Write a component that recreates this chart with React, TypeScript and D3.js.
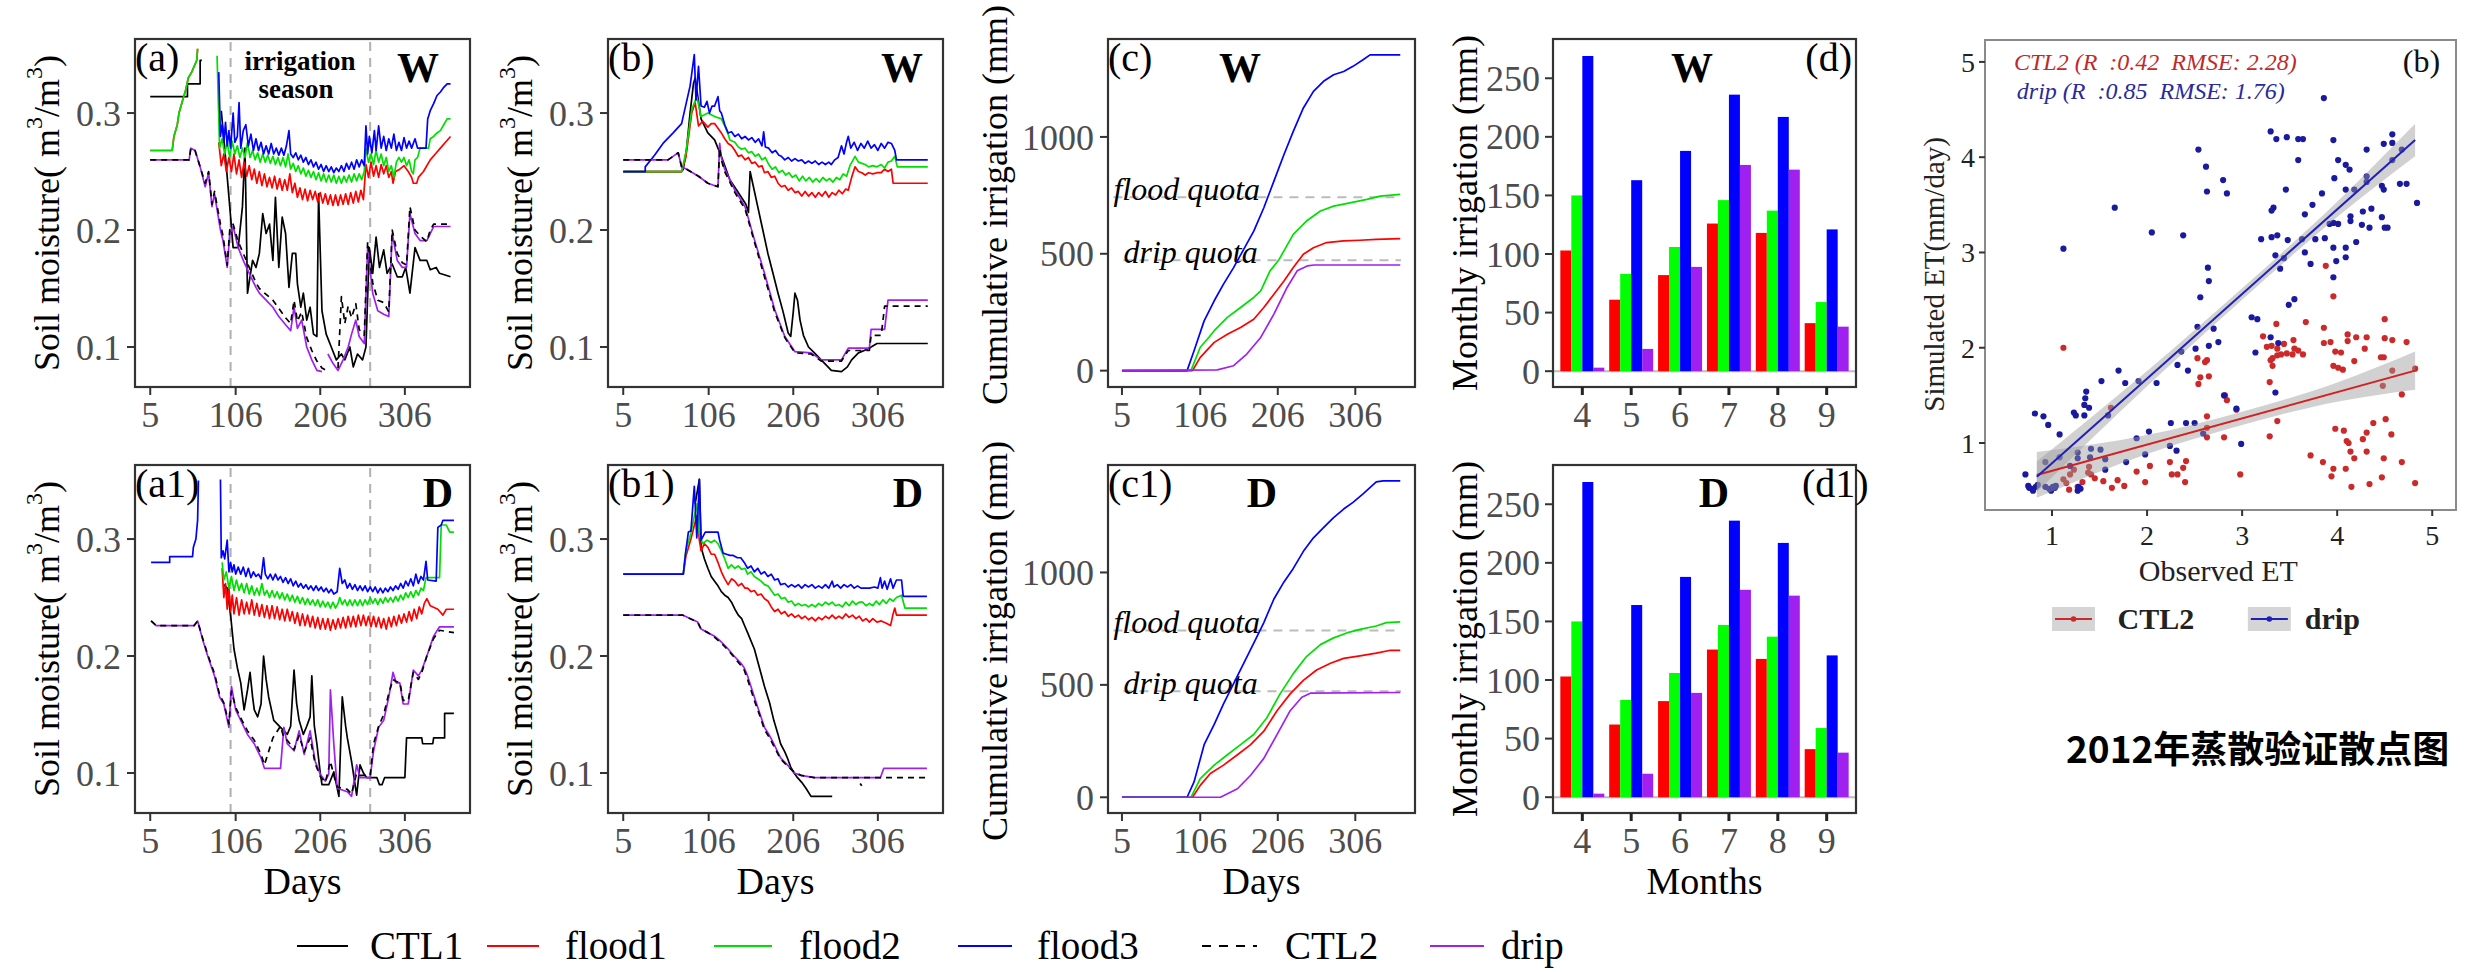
import React from 'react';
import * as d3 from 'd3';

type Pt = [number, number];
const N = NaN;

// ---------------- axis / label data ----------------
const dayTicks = [5, 106, 206, 306];
const soilTicks = [0.1, 0.2, 0.3];
const cumTicks = [0, 500, 1000];
const barTicks = [0, 50, 100, 150, 200, 250];
const monthLabels = ['4', '5', '6', '7', '8', '9'];
const irrigationSeason = [100, 265];
const quotaValues = [742, 472];
const quotaLabels = ['flood quota', 'drip quota'];
const quotaLabelStart = [-6, 7];
const seriesNames = ['CTL1', 'flood1', 'flood2', 'flood3', 'CTL2', 'drip'];
const seriesColors = ['#000000', '#ff0000', '#00e000', '#0000ff', '#000000', '#a020f0'];
const barColors = ['#ff0000', '#00ff00', '#0000ff', '#a020f0'];

// ---------------- (a) W soil moisture ----------------
const aW_CTL1: Pt[] = [[5,0.314],[49,0.314],[49,0.325],[64,0.325],[64,0.345],[66,0.345],[67,N],[89,0.302],[95,0.254],[99,0.22],[103,0.185],[109,0.185],[114,0.22],[117,0.27],[120,0.146],[126,0.174],[130,0.168],[134,0.18],[138,0.214],[142,0.197],[146,0.205],[150,0.174],[153,0.228],[157,0.168],[161,0.211],[165,0.197],[169,0.151],[173,0.18],[177,0.18],[179,0.154],[183,0.134],[186,0.146],[190,0.123],[194,0.134],[198,0.111],[202,0.109],[204,0.231],[208,0.131],[213,0.111],[219,0.1],[225,0.089],[231,0.094],[235,0.089],[241,0.1],[245,0.083],[250,0.094],[256,0.089],[260,0.1],[264,0.185],[268,0.163],[272,0.194],[276,0.168],[281,0.183],[285,0.163],[291,0.171],[297,0.16],[303,0.16],[307,0.168],[312,0.146],[318,0.185],[324,0.174],[332,0.174],[336,0.166],[343,0.168],[347,0.163],[360,0.16]];
const aW_flood1: Pt[] = [[5,0.268],[31,0.268],[33,0.28],[37,0.29],[39,0.3],[43,0.31],[47,0.32],[50,0.33],[54,0.335],[57,0.34],[60,0.345],[61,0.355],[62,N],[86,0.275],[89,0.255],[92,0.265],[95,0.25],[98,0.262],[101,0.25],[104,0.265],[107,0.248],[110,0.26],[113,0.245],[116,0.258],[119,0.246],[122,0.255],[125,0.243],[128,0.252],[131,0.24],[134,0.25],[137,0.238],[140,0.248],[143,0.237],[146,0.245],[149,0.236],[152,0.246],[155,0.235],[158,0.244],[161,0.234],[164,0.243],[167,0.234],[170,0.248],[173,0.232],[176,0.24],[179,0.228],[182,0.236],[185,0.226],[188,0.235],[191,0.225],[194,0.234],[197,0.226],[200,0.233],[203,0.224],[206,0.232],[209,0.223],[212,0.231],[215,0.222],[218,0.23],[221,0.221],[224,0.23],[227,0.221],[230,0.23],[233,0.222],[236,0.231],[239,0.222],[242,0.232],[245,0.223],[248,0.233],[251,0.224],[254,0.234],[257,0.226],[260,0.256],[263,0.245],[266,0.258],[269,0.246],[272,0.255],[275,0.245],[278,0.256],[281,0.248],[284,0.255],[287,0.245],[290,0.25],[292,0.24],[295,0.25],[300,0.252],[305,0.255],[310,0.25],[314,0.245],[316,0.24],[320,0.24],[322,0.245],[328,0.25],[336,0.26],[342,0.265],[348,0.27],[354,0.275],[360,0.28]];
const aW_flood2: Pt[] = [[5,0.268],[31,0.268],[33,0.28],[37,0.29],[39,0.3],[43,0.31],[47,0.32],[50,0.33],[54,0.335],[57,0.34],[60,0.345],[61,0.355],[62,N],[84,0.349],[87,0.27],[90,0.278],[93,0.265],[96,0.275],[99,0.262],[102,0.276],[105,0.265],[108,0.272],[111,0.262],[114,0.27],[117,0.262],[120,0.275],[123,0.262],[126,0.268],[129,0.26],[132,0.266],[135,0.258],[138,0.265],[141,0.258],[144,0.264],[147,0.257],[150,0.263],[153,0.256],[156,0.262],[159,0.255],[162,0.262],[165,0.254],[168,0.265],[171,0.252],[174,0.257],[177,0.25],[180,0.255],[183,0.248],[186,0.253],[189,0.246],[192,0.251],[195,0.245],[198,0.25],[201,0.243],[204,0.249],[207,0.242],[210,0.248],[213,0.241],[216,0.247],[219,0.241],[222,0.247],[225,0.24],[228,0.246],[231,0.24],[234,0.246],[237,0.241],[240,0.247],[243,0.241],[246,0.248],[249,0.242],[252,0.248],[255,0.243],[258,0.25],[260,0.27],[263,0.258],[266,0.265],[269,0.256],[272,0.268],[275,0.258],[278,0.265],[281,0.255],[284,0.262],[287,0.25],[290,0.255],[293,0.245],[296,0.258],[299,0.262],[302,0.258],[305,0.262],[308,0.255],[311,0.26],[314,0.25],[316,0.248],[318,0.26],[321,0.262],[324,0.27],[334,0.27],[336,0.278],[340,0.28],[344,0.283],[348,0.285],[352,0.29],[356,0.295],[360,0.295]];
const aW_flood3: Pt[] = [[86,0.335],[88,0.28],[90,0.29],[92,0.275],[94,0.292],[96,0.272],[98,0.285],[100,0.27],[103,0.3],[105,0.275],[108,0.28],[110,0.309],[112,0.27],[115,0.285],[118,0.29],[121,0.272],[124,0.282],[127,0.268],[130,0.278],[133,0.268],[136,0.275],[139,0.265],[142,0.272],[145,0.265],[148,0.274],[151,0.265],[154,0.27],[157,0.264],[160,0.27],[163,0.264],[166,0.272],[169,0.285],[171,0.265],[174,0.262],[177,0.266],[180,0.26],[183,0.264],[186,0.258],[189,0.262],[192,0.256],[195,0.26],[198,0.254],[201,0.258],[204,0.252],[207,0.256],[210,0.25],[213,0.255],[216,0.25],[219,0.254],[222,0.249],[225,0.253],[228,0.25],[231,0.255],[234,0.25],[237,0.257],[240,0.252],[243,0.258],[246,0.252],[249,0.26],[252,0.254],[255,0.26],[258,0.255],[260,0.289],[262,0.265],[264,0.28],[267,0.266],[270,0.285],[272,0.268],[275,0.289],[278,0.27],[281,0.28],[284,0.268],[287,0.278],[290,0.27],[293,0.282],[296,0.268],[299,0.275],[302,0.268],[305,0.279],[308,0.27],[311,0.276],[314,0.27],[318,0.278],[321,0.27],[331,0.27],[333,0.295],[336,0.302],[340,0.308],[344,0.315],[348,0.318],[352,0.322],[356,0.325],[360,0.325]];
const aW_CTL2: Pt[] = [[5,0.26],[51,0.26],[53,0.27],[58,0.268],[64,0.254],[70,0.24],[74,0.25],[78,0.222],[81,0.233],[88,0.205],[91,0.195],[96,0.17],[99,0.2],[103,0.205],[109,0.19],[115,0.18],[122,0.168],[130,0.155],[134,0.15],[142,0.145],[150,0.14],[157,0.133],[165,0.125],[171,0.12],[175,0.14],[179,0.122],[184,0.13],[190,0.108],[196,0.097],[202,0.088],[208,0.082],[213,0.08],[214,N],[227,0.082],[231,0.143],[235,0.12],[239,0.135],[243,0.125],[248,0.137],[252,0.115],[258,0.11],[262,0.19],[268,0.155],[274,0.14],[281,0.138],[287,0.13],[291,0.2],[297,0.18],[303,0.172],[308,0.17],[312,0.22],[318,0.2],[324,0.195],[332,0.19],[336,0.2],[340,0.205],[360,0.205]];
const aW_drip: Pt[] = [[5,0.26],[51,0.26],[53,0.27],[58,0.268],[64,0.254],[70,0.237],[74,0.249],[78,0.22],[81,0.231],[88,0.2],[91,0.191],[96,0.168],[99,0.197],[103,0.203],[109,0.185],[115,0.174],[122,0.163],[130,0.151],[134,0.146],[142,0.14],[150,0.134],[157,0.126],[165,0.119],[171,0.114],[175,0.134],[179,0.116],[184,0.123],[190,0.1],[196,0.089],[202,0.08],[208,0.079],[209,N],[215,0.094],[221,0.086],[227,0.08],[233,0.089],[239,0.1],[243,0.111],[248,0.123],[252,0.109],[258,0.103],[262,0.185],[268,0.146],[274,0.131],[281,0.128],[287,0.126],[291,0.197],[297,0.174],[303,0.168],[308,0.168],[312,0.214],[318,0.197],[324,0.191],[332,0.191],[336,0.197],[340,0.203],[360,0.203]];

// ---------------- (b) W soil moisture ----------------
const bW_CTL1: Pt[] = [[5,0.25],[74,0.25],[76,0.252],[80,0.27],[84,0.3],[88,0.325],[90,0.33],[93,0.315],[97,0.295],[105,0.283],[113,0.277],[121,0.263],[131,0.243],[141,0.232],[150,0.222],[153,0.215],[155,0.25],[158,0.24],[164,0.22],[170,0.2],[176,0.18],[182,0.163],[188,0.146],[194,0.13],[200,0.112],[203,0.109],[206,0.13],[208,0.146],[211,0.14],[214,0.123],[218,0.11],[224,0.1],[231,0.095],[239,0.089],[247,0.083],[251,0.08],[263,0.079],[270,0.083],[275,0.089],[283,0.095],[290,0.097],[298,0.1],[305,0.103],[365,0.103]];
const bW_flood1: Pt[] = [[5,0.25],[74,0.25],[79,0.262],[86,0.3],[90,0.309],[94,0.289],[99,0.293],[105,0.288],[109,0.291],[113,0.291],[117,0.287],[121,0.283],[125,0.278],[129,0.274],[133,0.272],[137,0.268],[141,0.263],[145,0.264],[149,0.26],[153,0.262],[157,0.257],[161,0.258],[165,0.254],[169,0.255],[172,0.249],[176,0.25],[180,0.245],[184,0.246],[188,0.24],[192,0.237],[196,0.238],[200,0.234],[204,0.236],[208,0.232],[212,0.233],[216,0.229],[220,0.233],[224,0.229],[228,0.232],[232,0.228],[236,0.232],[240,0.229],[244,0.233],[248,0.228],[252,0.232],[256,0.23],[260,0.234],[264,0.231],[268,0.235],[271,0.234],[275,0.245],[279,0.254],[283,0.25],[287,0.249],[291,0.247],[295,0.249],[300,0.248],[305,0.249],[310,0.249],[314,0.252],[318,0.25],[322,0.252],[324,0.24],[365,0.24]];
const bW_flood2: Pt[] = [[5,0.25],[74,0.25],[79,0.266],[86,0.303],[92,0.314],[97,0.297],[105,0.3],[113,0.297],[121,0.295],[125,0.289],[129,0.282],[131,0.277],[137,0.275],[141,0.271],[145,0.269],[149,0.27],[153,0.266],[157,0.267],[161,0.263],[165,0.265],[169,0.26],[173,0.262],[177,0.256],[181,0.252],[185,0.254],[189,0.249],[193,0.251],[197,0.247],[201,0.249],[205,0.245],[209,0.247],[213,0.242],[217,0.246],[221,0.242],[225,0.245],[229,0.241],[233,0.244],[237,0.241],[241,0.245],[245,0.242],[249,0.244],[253,0.241],[257,0.245],[261,0.243],[265,0.248],[269,0.246],[273,0.255],[279,0.263],[283,0.258],[287,0.257],[291,0.256],[295,0.254],[300,0.255],[305,0.254],[310,0.256],[314,0.253],[318,0.258],[322,0.259],[326,0.263],[329,0.254],[365,0.254]];
const bW_flood3: Pt[] = [[5,0.25],[31,0.25],[31,0.254],[42,0.264],[52,0.274],[64,0.283],[74,0.291],[84,0.323],[89,0.35],[91,0.311],[94,0.34],[97,0.306],[101,0.305],[104,0.31],[107,0.3],[110,0.306],[113,0.306],[117,0.314],[119,0.302],[121,0.3],[125,0.29],[129,0.283],[133,0.284],[137,0.28],[141,0.282],[145,0.278],[149,0.28],[153,0.277],[157,0.279],[161,0.275],[165,0.278],[169,0.272],[171,0.284],[173,0.271],[177,0.27],[181,0.266],[185,0.268],[189,0.264],[192,0.263],[196,0.26],[200,0.262],[204,0.259],[208,0.261],[212,0.259],[216,0.26],[220,0.257],[224,0.259],[228,0.257],[232,0.259],[236,0.256],[240,0.258],[244,0.256],[248,0.258],[251,0.256],[255,0.26],[259,0.262],[263,0.272],[266,0.265],[269,0.275],[271,0.28],[274,0.27],[278,0.275],[282,0.268],[286,0.274],[290,0.27],[294,0.276],[298,0.27],[302,0.273],[306,0.268],[310,0.274],[314,0.27],[318,0.275],[322,0.274],[326,0.268],[328,0.26],[365,0.26]];
const bW_CTL2: Pt[] = [[5,0.26],[58,0.26],[66,0.264],[70,0.266],[74,0.254],[80,0.252],[94,0.246],[105,0.24],[117,0.237],[119,0.27],[121,0.26],[125,0.25],[137,0.232],[149,0.218],[160,0.19],[172,0.16],[184,0.13],[196,0.108],[208,0.095],[227,0.094],[239,0.088],[263,0.088],[271,0.097],[296,0.097],[298,0.11],[310,0.11],[314,0.135],[365,0.135]];
const bW_drip: Pt[] = [[5,0.26],[58,0.26],[66,0.264],[70,0.266],[74,0.254],[80,0.252],[94,0.246],[105,0.24],[117,0.237],[119,0.274],[121,0.262],[125,0.252],[137,0.234],[149,0.22],[160,0.192],[172,0.163],[184,0.132],[196,0.109],[208,0.096],[227,0.095],[239,0.089],[263,0.089],[271,0.099],[296,0.099],[298,0.115],[314,0.115],[318,0.14],[365,0.14]];

// ---------------- (a1) D soil moisture ----------------
const aD_CTL1: Pt[] = [[92,0.261],[96,0.258],[100,0.235],[104,0.206],[108,0.19],[112,0.177],[116,0.154],[120,0.171],[123,0.186],[126,0.165],[128,0.154],[132,0.148],[136,0.159],[139,0.2],[142,0.18],[145,0.165],[151,0.145],[159,0.139],[167,0.133],[171,0.14],[175,0.188],[178,0.16],[181,0.145],[186,0.133],[190,0.14],[194,0.148],[196,0.183],[199,0.14],[202,0.125],[206,0.1],[208,0.09],[216,0.09],[222,0.101],[228,0.08],[232,0.165],[236,0.14],[238,0.13],[243,0.11],[249,0.081],[253,0.107],[257,0.1],[261,0.096],[273,0.096],[276,0.09],[279,0.09],[282,0.096],[306,0.096],[308,0.13],[326,0.13],[327,0.125],[339,0.125],[340,0.13],[353,0.13],[353,0.151],[364,0.151]];
const aD_flood1: Pt[] = [[90,0.275],[92,0.25],[94,0.262],[96,0.24],[98,0.258],[100,0.238],[102,0.252],[104,0.236],[107,0.25],[110,0.235],[113,0.248],[116,0.236],[119,0.246],[122,0.236],[125,0.248],[128,0.235],[131,0.245],[134,0.234],[137,0.244],[140,0.233],[143,0.243],[146,0.232],[149,0.243],[152,0.232],[155,0.242],[158,0.231],[161,0.24],[164,0.23],[167,0.24],[170,0.23],[173,0.238],[176,0.228],[179,0.237],[182,0.226],[185,0.236],[188,0.226],[191,0.235],[194,0.225],[197,0.234],[200,0.224],[203,0.233],[206,0.223],[209,0.232],[212,0.223],[215,0.232],[218,0.222],[221,0.231],[224,0.223],[227,0.232],[230,0.224],[233,0.233],[236,0.224],[239,0.234],[242,0.225],[245,0.234],[248,0.225],[251,0.235],[254,0.226],[257,0.235],[260,0.226],[263,0.234],[266,0.225],[269,0.234],[272,0.225],[275,0.233],[278,0.224],[281,0.232],[284,0.223],[287,0.233],[290,0.225],[293,0.234],[296,0.226],[299,0.235],[302,0.228],[305,0.236],[308,0.229],[311,0.238],[314,0.23],[317,0.24],[320,0.232],[323,0.242],[326,0.236],[329,0.245],[332,0.249],[336,0.243],[345,0.24],[351,0.235],[355,0.24],[364,0.24]];
const aD_flood2: Pt[] = [[90,0.28],[92,0.265],[95,0.272],[98,0.258],[101,0.268],[104,0.256],[107,0.265],[110,0.256],[113,0.262],[116,0.254],[119,0.262],[122,0.253],[125,0.26],[128,0.252],[131,0.258],[134,0.252],[137,0.262],[140,0.252],[143,0.256],[146,0.25],[149,0.256],[152,0.25],[155,0.255],[158,0.249],[161,0.254],[164,0.248],[167,0.253],[170,0.247],[173,0.252],[176,0.246],[179,0.251],[182,0.245],[185,0.25],[188,0.244],[191,0.249],[194,0.244],[197,0.248],[200,0.243],[203,0.248],[206,0.242],[209,0.247],[212,0.242],[215,0.246],[218,0.241],[221,0.246],[224,0.241],[227,0.245],[229,0.25],[232,0.244],[235,0.248],[238,0.243],[241,0.248],[244,0.243],[247,0.248],[250,0.243],[253,0.248],[256,0.243],[259,0.248],[262,0.244],[265,0.25],[268,0.245],[271,0.249],[274,0.244],[277,0.249],[280,0.245],[283,0.25],[286,0.246],[289,0.25],[292,0.246],[295,0.251],[298,0.247],[301,0.252],[304,0.248],[307,0.254],[310,0.25],[313,0.255],[316,0.25],[319,0.256],[322,0.252],[325,0.258],[328,0.256],[331,0.267],[347,0.267],[349,0.312],[355,0.312],[359,0.306],[364,0.306]];
const aD_flood3: Pt[] = [[6,0.28],[28,0.28],[28,0.285],[55,0.285],[56,0.293],[59,0.3],[61,0.316],[62,0.35],[63,N],[88,0.351],[89,0.284],[91,0.29],[93,0.283],[96,0.299],[98,0.272],[100,0.28],[102,0.272],[104,0.278],[106,0.27],[109,0.276],[112,0.27],[115,0.276],[118,0.268],[121,0.275],[124,0.267],[127,0.272],[130,0.268],[133,0.27],[136,0.266],[139,0.284],[141,0.27],[144,0.266],[147,0.27],[150,0.265],[153,0.27],[156,0.265],[159,0.268],[162,0.263],[165,0.267],[168,0.262],[171,0.266],[174,0.26],[177,0.264],[180,0.259],[183,0.262],[186,0.258],[189,0.261],[192,0.257],[195,0.26],[198,0.256],[201,0.26],[204,0.256],[207,0.259],[210,0.255],[213,0.258],[216,0.254],[219,0.257],[222,0.253],[226,0.255],[229,0.275],[232,0.262],[235,0.265],[238,0.258],[241,0.262],[244,0.257],[247,0.261],[250,0.256],[253,0.26],[256,0.256],[259,0.26],[262,0.255],[265,0.259],[268,0.255],[271,0.259],[274,0.254],[277,0.258],[280,0.254],[283,0.258],[286,0.255],[289,0.259],[292,0.256],[295,0.26],[298,0.257],[301,0.262],[304,0.258],[307,0.264],[310,0.26],[313,0.266],[316,0.26],[319,0.27],[322,0.262],[325,0.268],[328,0.265],[331,0.281],[333,0.265],[343,0.264],[345,0.31],[349,0.312],[351,0.316],[364,0.316]];
const aD_CTL2: Pt[] = [[6,0.23],[12,0.226],[57,0.226],[61,0.23],[67,0.215],[73,0.201],[81,0.185],[87,0.167],[92,0.16],[98,0.142],[101,0.17],[106,0.156],[112,0.147],[120,0.136],[128,0.128],[136,0.116],[140,0.107],[150,0.13],[159,0.14],[163,0.13],[167,0.128],[175,0.12],[181,0.132],[187,0.118],[194,0.13],[200,0.108],[206,0.097],[212,0.092],[218,0.11],[222,0.098],[226,0.088],[238,0.086],[243,0.082],[249,0.1],[253,0.098],[265,0.098],[269,0.125],[275,0.14],[281,0.15],[287,0.168],[292,0.18],[296,0.178],[300,0.178],[304,0.162],[310,0.162],[316,0.186],[322,0.18],[326,0.186],[332,0.2],[340,0.215],[347,0.222],[364,0.22]];
const aD_drip: Pt[] = [[6,0.23],[12,0.226],[57,0.226],[61,0.23],[67,0.214],[73,0.2],[81,0.183],[87,0.165],[92,0.159],[98,0.139],[101,0.174],[106,0.154],[112,0.145],[120,0.133],[128,0.125],[136,0.113],[140,0.104],[159,0.104],[163,0.139],[167,0.125],[175,0.119],[181,0.136],[187,0.116],[194,0.136],[200,0.11],[206,0.099],[212,0.093],[216,0.099],[218,0.171],[222,0.125],[226,0.087],[238,0.084],[243,0.08],[249,0.107],[253,0.096],[265,0.096],[269,0.119],[275,0.139],[281,0.145],[287,0.165],[292,0.186],[296,0.177],[300,0.177],[304,0.159],[310,0.159],[316,0.188],[322,0.183],[326,0.188],[332,0.2],[340,0.217],[347,0.225],[364,0.225]];

// ---------------- (b1) D soil moisture ----------------
const bD_CTL1: Pt[] = [[90,0.33],[95,0.351],[97,0.293],[101,0.283],[105,0.275],[109,0.268],[113,0.264],[117,0.26],[121,0.255],[125,0.252],[129,0.25],[133,0.246],[137,0.24],[141,0.235],[145,0.232],[149,0.225],[152,0.22],[156,0.213],[160,0.206],[166,0.19],[172,0.174],[178,0.16],[183,0.145],[188,0.133],[191,0.125],[196,0.118],[199,0.113],[203,0.105],[207,0.1],[211,0.096],[216,0.092],[221,0.087],[227,0.08],[252,0.08],[253,N],[285,0.091],[287,0.089]];
const bD_flood1: Pt[] = [[5,0.27],[76,0.27],[79,0.285],[85,0.3],[92,0.32],[95,0.299],[97,0.29],[101,0.296],[105,0.293],[109,0.287],[113,0.287],[117,0.28],[121,0.272],[125,0.266],[129,0.261],[133,0.266],[137,0.264],[141,0.26],[145,0.262],[149,0.258],[152,0.258],[156,0.255],[160,0.256],[164,0.252],[168,0.253],[172,0.249],[176,0.247],[180,0.242],[184,0.238],[188,0.24],[192,0.236],[196,0.238],[200,0.234],[204,0.236],[208,0.233],[212,0.235],[216,0.232],[220,0.234],[224,0.231],[228,0.233],[232,0.23],[236,0.233],[240,0.231],[244,0.234],[248,0.232],[252,0.235],[256,0.232],[260,0.234],[264,0.232],[268,0.236],[272,0.233],[276,0.235],[280,0.232],[284,0.234],[288,0.23],[292,0.232],[296,0.229],[300,0.232],[305,0.229],[310,0.23],[316,0.228],[321,0.226],[324,0.236],[326,0.241],[328,0.235],[364,0.235]];
const bD_flood2: Pt[] = [[5,0.27],[76,0.27],[79,0.29],[85,0.305],[92,0.33],[95,0.304],[99,0.296],[104,0.299],[109,0.297],[113,0.299],[117,0.296],[121,0.29],[125,0.283],[129,0.275],[133,0.278],[137,0.275],[141,0.277],[145,0.274],[149,0.275],[152,0.27],[156,0.272],[160,0.268],[164,0.266],[168,0.264],[172,0.261],[176,0.26],[180,0.256],[184,0.252],[188,0.253],[192,0.249],[196,0.25],[200,0.246],[204,0.247],[208,0.243],[212,0.245],[216,0.243],[220,0.244],[224,0.242],[228,0.244],[232,0.242],[236,0.245],[240,0.243],[244,0.246],[248,0.244],[252,0.246],[256,0.243],[260,0.244],[264,0.242],[268,0.246],[272,0.243],[276,0.247],[280,0.244],[284,0.246],[288,0.246],[292,0.243],[296,0.245],[300,0.243],[304,0.247],[308,0.244],[312,0.248],[316,0.245],[320,0.249],[324,0.247],[328,0.25],[334,0.252],[338,0.241],[364,0.241]];
const bD_flood3: Pt[] = [[5,0.27],[76,0.27],[79,0.29],[82,0.306],[85,0.307],[89,0.345],[92,0.301],[95,0.351],[97,0.299],[102,0.306],[117,0.306],[119,0.299],[123,0.288],[127,0.287],[131,0.286],[135,0.286],[140,0.284],[144,0.284],[148,0.28],[152,0.275],[156,0.277],[160,0.272],[164,0.275],[168,0.27],[172,0.272],[176,0.268],[180,0.27],[184,0.265],[188,0.266],[191,0.261],[196,0.262],[200,0.259],[204,0.261],[208,0.259],[212,0.261],[216,0.258],[220,0.261],[224,0.259],[228,0.261],[232,0.258],[236,0.26],[240,0.258],[244,0.261],[248,0.258],[252,0.264],[254,0.259],[258,0.261],[262,0.258],[266,0.261],[270,0.259],[274,0.261],[278,0.258],[282,0.26],[286,0.258],[296,0.258],[302,0.259],[306,0.258],[309,0.267],[311,0.258],[314,0.264],[317,0.257],[321,0.266],[324,0.258],[328,0.265],[334,0.265],[336,0.251],[364,0.251]];
const bD_CTL2: Pt[] = [[5,0.235],[75,0.235],[93,0.229],[97,0.223],[105,0.22],[113,0.216],[121,0.211],[129,0.205],[136,0.199],[144,0.192],[148,0.188],[152,0.18],[160,0.162],[166,0.15],[172,0.137],[178,0.13],[183,0.123],[191,0.112],[199,0.106],[207,0.101],[215,0.098],[231,0.096],[364,0.096]];
const bD_drip: Pt[] = [[5,0.235],[75,0.235],[93,0.229],[97,0.223],[105,0.22],[113,0.217],[121,0.212],[129,0.206],[136,0.2],[144,0.194],[148,0.19],[152,0.183],[160,0.165],[166,0.152],[172,0.139],[178,0.132],[183,0.125],[191,0.113],[199,0.107],[207,0.1],[215,0.098],[231,0.096],[309,0.096],[313,0.104],[364,0.104]];

// ---------------- (c) W cumulative irrigation ----------------
const cW_flood1: Pt[] = [[5,0],[96,0],[106,57],[124,121],[141,156],[158,185],[175,220],[188,270],[201,327],[214,384],[226,441],[239,498],[252,526],[269,548],[291,555],[312,558],[333,562],[364,565]];
const cW_flood2: Pt[] = [[5,0],[94,0],[106,100],[117,142],[124,171],[141,228],[158,270],[175,313],[184,341],[196,427],[207,472],[226,583],[243,640],[261,683],[278,704],[299,718],[321,733],[338,747],[364,754]];
const cW_flood3: Pt[] = [[5,0],[89,0],[98,85],[111,213],[124,299],[136,370],[149,441],[162,519],[175,597],[188,697],[201,811],[214,925],[226,1024],[239,1124],[252,1195],[265,1238],[278,1266],[291,1280],[303,1302],[316,1330],[325,1351],[364,1351]];
const cW_drip: Pt[] = [[5,0],[128,3],[149,21],[166,71],[184,142],[201,242],[218,356],[231,427],[244,448],[253,452],[364,452]];

// ---------------- (c1) D cumulative irrigation ----------------
const cD_flood1: Pt[] = [[5,0],[96,0],[106,53],[119,106],[136,143],[154,189],[171,234],[188,294],[205,385],[222,460],[239,520],[256,566],[274,596],[291,618],[312,629],[333,641],[350,653],[364,653]];
const cD_flood2: Pt[] = [[5,0],[94,0],[106,83],[124,143],[141,189],[158,234],[175,279],[192,354],[209,460],[226,550],[243,626],[261,679],[278,709],[295,731],[312,747],[333,762],[346,777],[364,780]];
const cD_flood3: Pt[] = [[5,0],[89,0],[98,68],[111,234],[124,324],[136,415],[149,505],[162,596],[175,686],[188,777],[201,882],[214,958],[226,1018],[239,1094],[252,1154],[265,1199],[278,1244],[291,1282],[303,1312],[316,1350],[333,1403],[342,1407],[364,1407]];
const cD_drip: Pt[] = [[5,0],[132,0],[154,38],[171,98],[188,173],[205,279],[222,385],[237,445],[248,463],[364,466]];

// ---------------- (d) monthly irrigation ----------------
const dW_flood1 = [103, 61, 82, 126, 118, 41];
const dW_flood2 = [150, 83, 106, 146, 137, 59];
const dW_flood3 = [269, 163, 188, 236, 217, 121];
const dW_drip = [3, 19, 89, 176, 172, 38];
const dD_flood1 = [103, 62, 82, 126, 118, 41];
const dD_flood2 = [150, 83, 106, 147, 137, 59];
const dD_flood3 = [269, 164, 188, 236, 217, 121];
const dD_drip = [3, 20, 89, 177, 172, 38];

// ---------------- scatter (ET validation) ----------------
const etTicks = [1, 2, 3, 4, 5];
const etBlue: Pt[] = [[3.86,4.62],[2.54,4.08],[2.62,3.9],[3.3,4.27],[3.36,4.19],[3.47,4.21],[3.59,4.19],[3.64,4.19],[3.96,4.18],[4.49,4.14],[4.58,4.15],[4.58,4.24],[4.68,4.08],[4.31,4.08],[4.01,3.97],[4.09,3.92],[4.13,3.87],[3.59,3.97],[4.58,3.97],[3.97,3.78],[2.8,3.76],[2.84,3.62],[2.63,3.64],[3.46,3.66],[3.84,3.62],[4.09,3.66],[4.18,3.66],[4.31,3.8],[4.31,3.74],[4.47,3.7],[4.49,3.66],[4.66,3.72],[4.73,3.72],[4.84,3.52],[3.74,3.5],[3.66,3.4],[3.33,3.47],[3.31,3.44],[1.66,3.47],[4.14,3.38],[4.01,3.3],[3.92,3.3],[3.96,3.31],[4.14,3.33],[4.27,3.43],[4.36,3.46],[4.26,3.29],[4.34,3.26],[4.47,3.37],[4.5,3.26],[4.53,3.26],[2.05,3.21],[2.38,3.18],[3.2,3.14],[3.31,3.16],[3.37,3.18],[3.48,3.13],[3.63,3.14],[3.77,3.14],[3.87,3.15],[3.96,3.05],[4.09,3.05],[4.2,3.11],[3.99,2.91],[4.09,2.95],[3.66,3.0],[3.72,2.88],[3.35,2.97],[3.4,2.83],[3.44,2.94],[1.12,3.04],[2.64,2.84],[2.65,2.7],[3.96,2.74],[2.56,2.53],[3.55,2.51],[3.49,2.45],[2.53,2.22],[2.7,2.2],[3.1,2.32],[3.16,2.3],[3.14,1.95],[3.3,2.11],[3.38,2.05],[3.35,1.53],[2.75,2.06],[2.65,2.02],[2.51,1.99],[2.36,1.96],[2.32,1.82],[2.43,1.76],[2.81,1.5],[2.94,1.36],[1.91,1.65],[2.1,1.63],[1.77,1.63],[1.52,1.65],[1.7,1.76],[1.36,1.54],[1.35,1.47],[1.34,1.4],[1.39,1.37],[1.23,1.32],[1.25,1.29],[1.34,1.29],[0.82,1.31],[0.91,1.28],[0.96,1.19],[1.08,1.09],[1.59,1.29],[1.89,1.05],[2.02,1.12],[2.25,1.21],[2.41,1.21],[2.5,1.21],[2.24,0.97],[2.31,0.92],[1.98,0.88],[1.78,0.8],[1.56,0.83],[1.51,0.93],[1.56,0.72],[1.41,0.94],[1.4,0.85],[1.27,0.9],[1.27,0.84],[1.19,0.76],[1.08,0.85],[0.93,0.8],[0.72,0.67],[0.75,0.55],[0.79,0.52],[0.83,0.54],[0.85,0.56],[0.93,0.54],[0.97,0.52],[1.01,0.54],[1.04,0.55],[1.28,0.54],[1.3,0.52],[2.99,0.99],[2.59,1.1],[0.8,0.5],[0.76,0.53],[0.99,0.5],[1.03,0.53],[1.27,0.5]];
const etRed: Pt[] = [[1.12,2.0],[3.88,2.86],[3.96,2.54],[3.67,2.27],[3.86,2.21],[3.22,2.12],[3.36,2.25],[3.26,2.01],[3.31,2.02],[3.37,1.99],[3.44,2.04],[3.54,2.08],[3.55,1.99],[3.59,1.97],[3.32,1.89],[3.37,1.92],[3.41,1.93],[3.47,1.94],[3.53,1.93],[3.64,1.93],[3.86,2.05],[3.93,2.06],[3.98,1.96],[4.04,1.95],[4.11,2.14],[4.11,2.07],[4.2,2.11],[4.31,2.11],[4.29,1.99],[4.5,2.3],[4.5,2.1],[4.58,2.08],[4.73,2.06],[4.49,1.9],[3.96,1.81],[4.01,1.79],[4.06,1.77],[4.18,1.86],[4.46,1.9],[3.3,1.87],[3.32,1.81],[3.29,1.64],[2.63,1.87],[2.53,1.89],[2.61,1.85],[2.56,1.69],[2.65,1.7],[2.54,1.62],[2.63,1.28],[2.63,1.16],[2.82,1.5],[2.84,1.45],[2.94,1.35],[2.98,0.67],[3.29,1.07],[3.37,1.23],[3.72,0.87],[3.85,0.8],[3.96,0.73],[3.94,0.65],[4.09,0.73],[3.98,1.15],[4.07,1.13],[4.1,1.02],[4.12,1.0],[4.14,0.91],[4.18,0.84],[4.15,0.54],[4.27,1.04],[4.31,1.11],[4.31,0.91],[4.34,0.57],[4.38,1.21],[4.47,0.64],[4.49,0.84],[4.51,1.25],[4.57,1.09],[4.68,0.8],[4.68,1.51],[4.58,1.76],[4.82,0.58],[4.48,1.6],[4.82,1.78],[2.63,1.06],[2.81,1.06],[2.41,0.81],[2.38,0.74],[2.32,0.67],[2.4,0.59],[2.24,0.8],[2.26,0.67],[2.03,0.76],[1.89,0.7],[1.98,0.59],[1.69,0.61],[1.76,0.55],[1.63,0.53],[1.54,0.6],[1.45,0.63],[1.41,0.67],[1.38,0.69],[1.32,0.59],[1.27,0.54],[1.18,0.51],[1.15,0.58],[1.12,0.62],[1.23,0.72],[1.39,0.75],[1.62,1.37],[1.19,0.67]];
const fitX = [0.84, 2, 3, 4, 4.82];
const blueFit: Pt[] = [[0.84, 0.646], [4.82, 4.18]];
const redFit: Pt[] = [[0.84, 0.665], [4.82, 1.76]];
const blueBandHalf = [0.16, 0.08, 0.06, 0.08, 0.17];
const redBandHalf = [0.24, 0.1, 0.07, 0.1, 0.2];
const etLabels = ['CTL2 (R  :0.42  RMSE: 2.28)', 'drip (R  :0.85  RMSE: 1.76)'];
const caption = '2012年蒸散验证散点图';

// ---------------- layout ----------------
const SERIF = '"Liberation Serif", "Times New Roman", serif';
const TICK_GREY = '#4d4d4d';
const FRAME = '#333333';
const COLS = { a: [135, 335], b: [608, 335], c: [1108, 307], d: [1553, 303] };
const ROWS = [[39, 348], [465, 348]];
const dayDomain: [number, number] = [-13, 383];
const soilDomain: [number, number] = [0.0658, 0.3633];

type LineSpec = { data: Pt[]; color: string; dash?: string };

function YTitle({ x, y, children }: { x: number; y: number; children: React.ReactNode }) {
  return (
    <text transform={`translate(${x},${y}) rotate(-90)`} textAnchor="middle" dominantBaseline="central"
      fontFamily={SERIF} fontSize={36} fill="#000">{children}</text>
  );
}

function SoilTitle({ x, y }: { x: number; y: number }) {
  return (
    <YTitle x={x} y={y}>
      Soil moisture( m<tspan dy={-13} fontSize={24}>3</tspan><tspan dy={13}>/m</tspan>
      <tspan dy={-13} fontSize={24}>3</tspan><tspan dy={13}>)</tspan>
    </YTitle>
  );
}

function LinePanel(props: {
  id: string; left: number; top: number; width: number; height: number;
  yDomain: [number, number]; yTicks: number[]; yFmt: (v: number) => string;
  lines: LineSpec[]; extra?: (x: d3.ScaleLinear<number, number>, y: d3.ScaleLinear<number, number>) => React.ReactNode;
}) {
  const { id, left, top, width, height, yDomain, yTicks, yFmt, lines, extra } = props;
  const x = d3.scaleLinear().domain(dayDomain).range([left, left + width]);
  const y = d3.scaleLinear().domain(yDomain).range([top + height, top]);
  const gen = d3.line<Pt>().defined(d => !isNaN(d[1])).x(d => x(d[0])).y(d => y(d[1]));
  const bottom = top + height;
  return (
    <g>
      <defs>
        <clipPath id={id}><rect x={left} y={top} width={width} height={height} /></clipPath>
      </defs>
      <g clipPath={`url(#${id})`}>
        {extra ? extra(x, y) : null}
        {lines.map((l, i) => (
          <path key={i} d={gen(l.data) || ''} fill="none" stroke={l.color} strokeWidth={1.7}
            strokeDasharray={l.dash || undefined} strokeLinejoin="round" />
        ))}
      </g>
      <rect x={left} y={top} width={width} height={height} fill="none" stroke={FRAME} strokeWidth={2.2} />
      {yTicks.map(t => (
        <g key={t}>
          <line x1={left - 8} x2={left} y1={y(t)} y2={y(t)} stroke={FRAME} strokeWidth={2} />
          <text x={left - 14} y={y(t)} dy="0.35em" textAnchor="end" fontFamily={SERIF} fontSize={36} fill={TICK_GREY}>{yFmt(t)}</text>
        </g>
      ))}
      {dayTicks.map(t => (
        <g key={t}>
          <line x1={x(t)} x2={x(t)} y1={bottom} y2={bottom + 8} stroke={FRAME} strokeWidth={2} />
          <text x={x(t)} y={bottom + 40} textAnchor="middle" fontFamily={SERIF} fontSize={36} fill={TICK_GREY}>{t}</text>
        </g>
      ))}
    </g>
  );
}

function soilLines(ctl1: Pt[], f1: Pt[], f2: Pt[], f3: Pt[], ctl2: Pt[], drip: Pt[]): LineSpec[] {
  return [
    { data: ctl1, color: seriesColors[0] },
    { data: f1, color: seriesColors[1] },
    { data: f2, color: seriesColors[2] },
    { data: f3, color: seriesColors[3] },
    { data: drip, color: seriesColors[5] },
    { data: ctl2, color: seriesColors[4], dash: '6,5' },
  ];
}

function cumLines(f1: Pt[], f2: Pt[], f3: Pt[], drip: Pt[]): LineSpec[] {
  return [
    { data: f1, color: seriesColors[1] },
    { data: f2, color: seriesColors[2] },
    { data: f3, color: seriesColors[3] },
    { data: drip, color: seriesColors[5] },
  ];
}

function BarPanel(props: { left: number; top: number; width: number; height: number; values: number[][] }) {
  const { left, top, width, height, values } = props;
  const x = d3.scaleLinear().domain([0.4, 6.6]).range([left, left + width]);
  const y = d3.scaleLinear().domain([-13.5, 283.5]).range([top + height, top]);
  const bw = 0.225;
  const bottom = top + height;
  return (
    <g>
      <line x1={left} x2={left + width} y1={y(0)} y2={y(0)} stroke="#bdbdbd" strokeWidth={2} />
      {values.map((series, si) => series.map((v, mi) => {
        const cx = mi + 1 + (si - 1.5) * bw;
        return <rect key={`${si}-${mi}`} x={x(cx - bw / 2)} y={y(v)} width={x(cx + bw / 2) - x(cx - bw / 2)}
          height={y(0) - y(v)} fill={barColors[si]} />;
      }))}
      <rect x={left} y={top} width={width} height={height} fill="none" stroke={FRAME} strokeWidth={2.2} />
      {barTicks.map(t => (
        <g key={t}>
          <line x1={left - 8} x2={left} y1={y(t)} y2={y(t)} stroke={FRAME} strokeWidth={2} />
          <text x={left - 13} y={y(t)} dy="0.35em" textAnchor="end" fontFamily={SERIF} fontSize={36} fill={TICK_GREY}>{t}</text>
        </g>
      ))}
      {monthLabels.map((m, i) => (
        <g key={m}>
          <line x1={x(i + 1)} x2={x(i + 1)} y1={bottom} y2={bottom + 8} stroke="#222" strokeWidth={3} />
          <text x={x(i + 1)} y={bottom + 40} textAnchor="middle" fontFamily={SERIF} fontSize={36} fill={TICK_GREY}>{m}</text>
        </g>
      ))}
    </g>
  );
}

function quotaExtra(x: d3.ScaleLinear<number, number>, y: d3.ScaleLinear<number, number>) {
  return (
    <g>
      {quotaValues.map((q, i) => (
        <g key={i}>
          <line x1={x(quotaLabelStart[i])} x2={x(365)} y1={y(q)} y2={y(q)} stroke="#bbbbbb" strokeWidth={2} strokeDasharray="9,7" />
          <text x={x(quotaLabelStart[i])} y={y(q) + 3} fontFamily={SERIF} fontStyle="italic" fontSize={32} fill="#000">{quotaLabels[i]}</text>
        </g>
      ))}
    </g>
  );
}

function seasonExtra(x: d3.ScaleLinear<number, number>, y: d3.ScaleLinear<number, number>) {
  const [y0, y1] = y.range();
  return (
    <g>
      {irrigationSeason.map(d => (
        <line key={d} x1={x(d)} x2={x(d)} y1={y0} y2={y1} stroke="#b0b0b0" strokeWidth={2} strokeDasharray="9,7" />
      ))}
    </g>
  );
}

function Scatter() {
  const left = 1985, right = 2456, top = 40, bottom = 510;
  const x = d3.scaleLinear().domain([0.295, 5.25]).range([left, right]);
  const y = d3.scaleLinear().domain([0.297, 5.23]).range([bottom, top]);
  const band = (fit: Pt[], half: number[]) => {
    const pts = fitX.map((fx, i) => {
      const c = fit[0][1] + (fit[1][1] - fit[0][1]) * (fx - fit[0][0]) / (fit[1][0] - fit[0][0]);
      return { fx, lo: c - half[i], hi: c + half[i] };
    });
    return d3.area<{ fx: number; lo: number; hi: number }>()
      .x(d => x(d.fx)).y0(d => y(d.lo)).y1(d => y(d.hi)).curve(d3.curveMonotoneX)(pts) || '';
  };
  const lineGen = d3.line<Pt>().x(d => x(d[0])).y(d => y(d[1]));
  const blue = '#1a1aa0', red = '#cc2a2a';
  const legendY = bottom + 109;
  return (
    <g>
      <defs><clipPath id="scClip"><rect x={left} y={top} width={right - left} height={bottom - top} /></clipPath></defs>
      <g clipPath="url(#scClip)">
        {etRed.map((p, i) => <circle key={`r${i}`} cx={x(p[0])} cy={y(p[1])} r={3.1} fill={red} />)}
        {etBlue.map((p, i) => <circle key={`b${i}`} cx={x(p[0])} cy={y(p[1])} r={3.1} fill={blue} />)}
        <path d={band(redFit, redBandHalf)} fill="#9a9a9a" fillOpacity={0.45} />
        <path d={band(blueFit, blueBandHalf)} fill="#9a9a9a" fillOpacity={0.45} />
        <path d={lineGen(redFit) || ''} stroke="#d42020" strokeWidth={2} fill="none" />
        <path d={lineGen(blueFit) || ''} stroke="#2020b8" strokeWidth={2} fill="none" />
      </g>
      <rect x={left} y={top} width={right - left} height={bottom - top} fill="none" stroke="#8a8a8a" strokeWidth={2} />
      {etTicks.map(t => (
        <g key={`y${t}`}>
          <line x1={left - 6} x2={left} y1={y(t)} y2={y(t)} stroke="#333" strokeWidth={2} />
          <text x={left - 10} y={y(t)} dy="0.35em" textAnchor="end" fontFamily={SERIF} fontSize={28} fill="#222">{t}</text>
        </g>
      ))}
      {etTicks.map(t => (
        <g key={`x${t}`}>
          <line x1={x(t)} x2={x(t)} y1={bottom} y2={bottom + 6} stroke="#333" strokeWidth={2} />
          <text x={x(t)} y={bottom + 35} textAnchor="middle" fontFamily={SERIF} fontSize={28} fill="#222">{t}</text>
        </g>
      ))}
      <text transform={`translate(1934,${y(2.77)}) rotate(-90)`} textAnchor="middle" dominantBaseline="central"
        fontFamily={SERIF} fontSize={29} fill="#222">Simulated ET(mm/day)</text>
      <text x={x(2.75)} y={bottom + 71} textAnchor="middle" fontFamily={SERIF} fontSize={30} fill="#222">Observed ET</text>
      <text x={x(0.6)} y={y(4.91)} fontFamily={SERIF} fontStyle="italic" fontSize={24} fill="#c02a2a" style={{ whiteSpace: 'pre' }}>{etLabels[0]}</text>
      <text x={x(0.63)} y={y(4.61)} fontFamily={SERIF} fontStyle="italic" fontSize={24} fill="#2a2a9a" style={{ whiteSpace: 'pre' }}>{etLabels[1]}</text>
      <text x={x(4.69)} y={y(4.89)} fontFamily={SERIF} fontSize={32} fill="#111">(b)</text>
      {[{ k: x(1.0), t: x(1.69), c: '#cc2a2a', n: 'CTL2' }, { k: x(3.06), t: x(3.66), c: '#2020b8', n: 'drip' }].map(g => (
        <g key={g.n}>
          <rect x={g.k} y={legendY - 12} width={43} height={24} fill="#d5d5d5" />
          <line x1={g.k + 3} x2={g.k + 40} y1={legendY} y2={legendY} stroke={g.c} strokeWidth={2} />
          <circle cx={g.k + 21.5} cy={legendY} r={2.8} fill={g.c} />
          <text x={g.t} y={legendY + 10} fontFamily={SERIF} fontWeight="bold" fontSize={30} fill="#222">{g.n}</text>
        </g>
      ))}
      <text x={2066} y={763} fontFamily={'"Noto Sans CJK SC", "Noto Sans", sans-serif'} fontWeight="bold" fontSize={37}
        fill="#000">{caption}</text>
    </g>
  );
}

function Legend() {
  const items = [
    { l: 297, r: 348, t: 370 },
    { l: 487, r: 539, t: 565 },
    { l: 714, r: 772, t: 799 },
    { l: 958, r: 1012, t: 1037 },
    { l: 1202, r: 1257, t: 1285 },
    { l: 1430, r: 1484, t: 1501 },
  ];
  return (
    <g>
      {seriesNames.map((n, i) => (
        <g key={n}>
          <line x1={items[i].l} x2={items[i].r} y1={946} y2={946} stroke={seriesColors[i]} strokeWidth={2}
            strokeDasharray={n === 'CTL2' ? '9,8' : undefined} />
          <text x={items[i].t} y={959} fontFamily={SERIF} fontSize={39} fill="#000">{n}</text>
        </g>
      ))}
    </g>
  );
}

export default function App() {
  const [aL, aW] = COLS.a, [bL, bW] = COLS.b, [cL, cW] = COLS.c, [dL, dW] = COLS.d;
  const [t0, h0] = ROWS[0], [t1, h1] = ROWS[1];
  const f1 = (v: number) => v.toFixed(1);
  const f0 = (v: number) => String(v);
  const letter = (x: number, y: number, s: string) => (
    <text x={x} y={y} fontFamily={SERIF} fontSize={40} fill="#000">{s}</text>
  );
  const bold = (x: number, y: number, s: string) => (
    <text x={x} y={y} textAnchor="middle" fontFamily={SERIF} fontWeight="bold" fontSize={42} fill="#000">{s}</text>
  );
  return (
    <svg width={2483} height={972} style={{ position: 'absolute', left: 0, top: 0, display: 'block', background: '#fff' }}>
      <rect x={0} y={0} width={2483} height={972} fill="#fff" />
      <LinePanel id="pa" left={aL} top={t0} width={aW} height={h0} yDomain={soilDomain} yTicks={soilTicks} yFmt={f1}
        lines={soilLines(aW_CTL1, aW_flood1, aW_flood2, aW_flood3, aW_CTL2, aW_drip)} extra={seasonExtra} />
      <LinePanel id="pb" left={bL} top={t0} width={bW} height={h0} yDomain={soilDomain} yTicks={soilTicks} yFmt={f1}
        lines={soilLines(bW_CTL1, bW_flood1, bW_flood2, bW_flood3, bW_CTL2, bW_drip)} />
      <LinePanel id="pc" left={cL} top={t0} width={cW} height={h0} yDomain={[-70, 1419]} yTicks={cumTicks} yFmt={f0}
        lines={cumLines(cW_flood1, cW_flood2, cW_flood3, cW_drip)} extra={quotaExtra} />
      <BarPanel left={dL} top={t0} width={dW} height={h0} values={[dW_flood1, dW_flood2, dW_flood3, dW_drip]} />
      <LinePanel id="pa1" left={aL} top={t1} width={aW} height={h1} yDomain={soilDomain} yTicks={soilTicks} yFmt={f1}
        lines={soilLines(aD_CTL1, aD_flood1, aD_flood2, aD_flood3, aD_CTL2, aD_drip)} extra={seasonExtra} />
      <LinePanel id="pb1" left={bL} top={t1} width={bW} height={h1} yDomain={soilDomain} yTicks={soilTicks} yFmt={f1}
        lines={soilLines(bD_CTL1, bD_flood1, bD_flood2, bD_flood3, bD_CTL2, bD_drip)} />
      <LinePanel id="pc1" left={cL} top={t1} width={cW} height={h1} yDomain={[-70, 1478]} yTicks={cumTicks} yFmt={f0}
        lines={cumLines(cD_flood1, cD_flood2, cD_flood3, cD_drip)} extra={quotaExtra} />
      <BarPanel left={dL} top={t1} width={dW} height={h1} values={[dD_flood1, dD_flood2, dD_flood3, dD_drip]} />

      <SoilTitle x={47} y={t0 + h0 / 2} />
      <SoilTitle x={520} y={t0 + h0 / 2} />
      <YTitle x={995} y={205}>Cumulative irrigation (mm)</YTitle>
      <YTitle x={1465} y={t0 + h0 / 2}>Monthly irrigation (mm)</YTitle>
      <SoilTitle x={47} y={t1 + h1 / 2} />
      <SoilTitle x={520} y={t1 + h1 / 2} />
      <YTitle x={995} y={641}>Cumulative irrigation (mm)</YTitle>
      <YTitle x={1465} y={t1 + h1 / 2}>Monthly irrigation (mm)</YTitle>
      {[aL + aW / 2, bL + bW / 2, cL + cW / 2].map((cx, i) => (
        <text key={i} x={cx} y={894} textAnchor="middle" fontFamily={SERIF} fontSize={38} fill="#000">Days</text>
      ))}
      <text x={dL + dW / 2} y={894} textAnchor="middle" fontFamily={SERIF} fontSize={38} fill="#000">Months</text>

      {letter(aL, 71, '(a)')}
      {letter(bL, 71, '(b)')}
      {letter(cL, 71, '(c)')}
      <text x={dL + dW - 4} y={71} textAnchor="end" fontFamily={SERIF} fontSize={40} fill="#000">(d)</text>
      {letter(aL, 497, '(a1)')}
      {letter(bL, 497, '(b1)')}
      {letter(cL, 497, '(c1)')}
      <text x={1802} y={497} fontFamily={SERIF} fontSize={40} fill="#000">(d1)</text>
      {bold(418, 82, 'W')}
      {bold(902, 82, 'W')}
      {bold(1240, 82, 'W')}
      {bold(1692, 82, 'W')}
      {bold(438, 507, 'D')}
      {bold(908, 507, 'D')}
      {bold(1262, 507, 'D')}
      {bold(1714, 507, 'D')}
      <text x={300} y={70} textAnchor="middle" fontFamily={SERIF} fontWeight="bold" fontSize={27} fill="#000">irrigation</text>
      <text x={296} y={98} textAnchor="middle" fontFamily={SERIF} fontWeight="bold" fontSize={27} fill="#000">season</text>

      <Legend />
      <Scatter />
    </svg>
  );
}
